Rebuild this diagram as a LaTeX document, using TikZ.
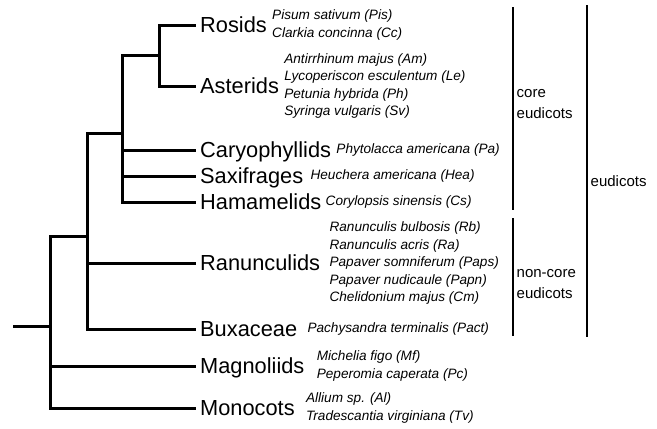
\documentclass[tikz,border=0pt]{standalone}
\usepackage{fontspec}
\setmainfont{Liberation Sans}
\usetikzlibrary{positioning}
\tikzset{ clade/.style={anchor=west,inner xsep=4pt,inner ysep=0pt,text height=15.5pt,text depth=0pt,font=\fontsize{21.8}{24}\selectfont},
  taxa/.style={align=left,inner sep=0pt,font=\fontsize{13.6}{17.5}\selectfont\itshape},
  branch/.style={line width=3pt},
  bar/.style={line width=1.4pt},
  group/.style={right,align=left,inner xsep=3pt,font=\fontsize{15}{21}\selectfont} }

\begin{document}
\begin{tikzpicture}[x=1pt,y=-1pt]
   \useasboundingbox (0,0) rectangle (657,429);
   % internal nodes of the tree
   \coordinate (root) at (13,326);
   \coordinate (angio) at (50,326);
   \coordinate (eud) at (87,236);
   \coordinate (core) at (122,133);
   \coordinate (ra) at (159,55);
   % clades
   \node[clade] (rosids) at (196,25) {Rosids};
   \node[clade] (asterids) at (196,86) {Asterids};
   \node[clade] (caryo) at (196,150) {Caryophyllids};
   \node[clade] (saxi) at (196,176) {Saxifrages};
   \node[clade] (hama) at (196,202) {Hamamelids};
   \node[clade] (ranun) at (196,263) {Ranunculids};
   \node[clade] (buxa) at (196,329) {Buxaceae};
   \node[clade] (magno) at (196,366) {Magnoliids};
   \node[clade] (mono) at (196,408) {Monocots};
   % species
   \node[taxa,right=1pt of rosids] (rosidsp) {Pisum sativum (Pis)\\Clarkia concinna (Cc)};
   \node[taxa,right=1pt of asterids] (asteridsp) {Antirrhinum majus (Am)\\Lycoperiscon esculentum (Le)\\Petunia hybrida (Ph)\\Syringa vulgaris (Sv)};
   \node[taxa,right=1pt of caryo] (caryosp) {Phytolacca americana (Pa)};
   \node[taxa,right=3pt of saxi] (saxisp) {Heuchera americana (Hea)};
   \node[taxa,right=0pt of hama] (hamasp) {Corylopsis sinensis (Cs)};
   \node[taxa,right=5pt of ranun] (ranunsp) {Ranunculis bulbosis (Rb)\\Ranunculis acris (Ra)\\Papaver somniferum (Paps)\\Papaver nudicaule (Papn)\\Chelidonium majus (Cm)};
   \node[taxa,right=6pt of buxa] (buxasp) {Pachysandra terminalis (Pact)};
   \node[taxa,right=8pt of magno] (magnosp) {Michelia figo (Mf)\\Peperomia caperata (Pc)};
   \node[taxa,right=7pt of mono] (monosp) {Allium sp. (Al)\\Tradescantia virginiana (Tv)};
   % branches
   \draw[branch] (root) -- (angio);
   \draw[branch] (angio) |- (eud);
   \draw[branch] (angio) |- (magno.west);
   \draw[branch] (angio) |- (mono.west);
   \draw[branch] (eud) |- (core);
   \draw[branch] (eud) |- (ranun.west);
   \draw[branch] (eud) |- (buxa.west);
   \draw[branch] (core) |- (ra);
   \draw[branch] (core) |- (caryo.west);
   \draw[branch] (core) |- (saxi.west);
   \draw[branch] (core) |- (hama.west);
   \draw[branch] (ra) |- (rosids.west);
   \draw[branch] (ra) |- (asterids.west);
   % groups on the right
   \coordinate (ctop) at (513,7);
   \coordinate (cbot) at (513,210);
   \coordinate (ntop) at (513,218);
   \coordinate (nbot) at (513,336);
   \coordinate (etop) at (587,5);
   \coordinate (ebot) at (587,337);
   \draw[bar] (ctop) -- (cbot) node[group,pos=0.48] (coretxt) {core\\eudicots};
   \draw[bar] (ntop) -- (nbot) node[group,pos=0.56] (noncoretxt) {non-core\\eudicots};
   \draw[bar] (etop) -- (ebot) node[group,pos=0.53] (eudtxt) {eudicots};
\end{tikzpicture}
\end{document}
